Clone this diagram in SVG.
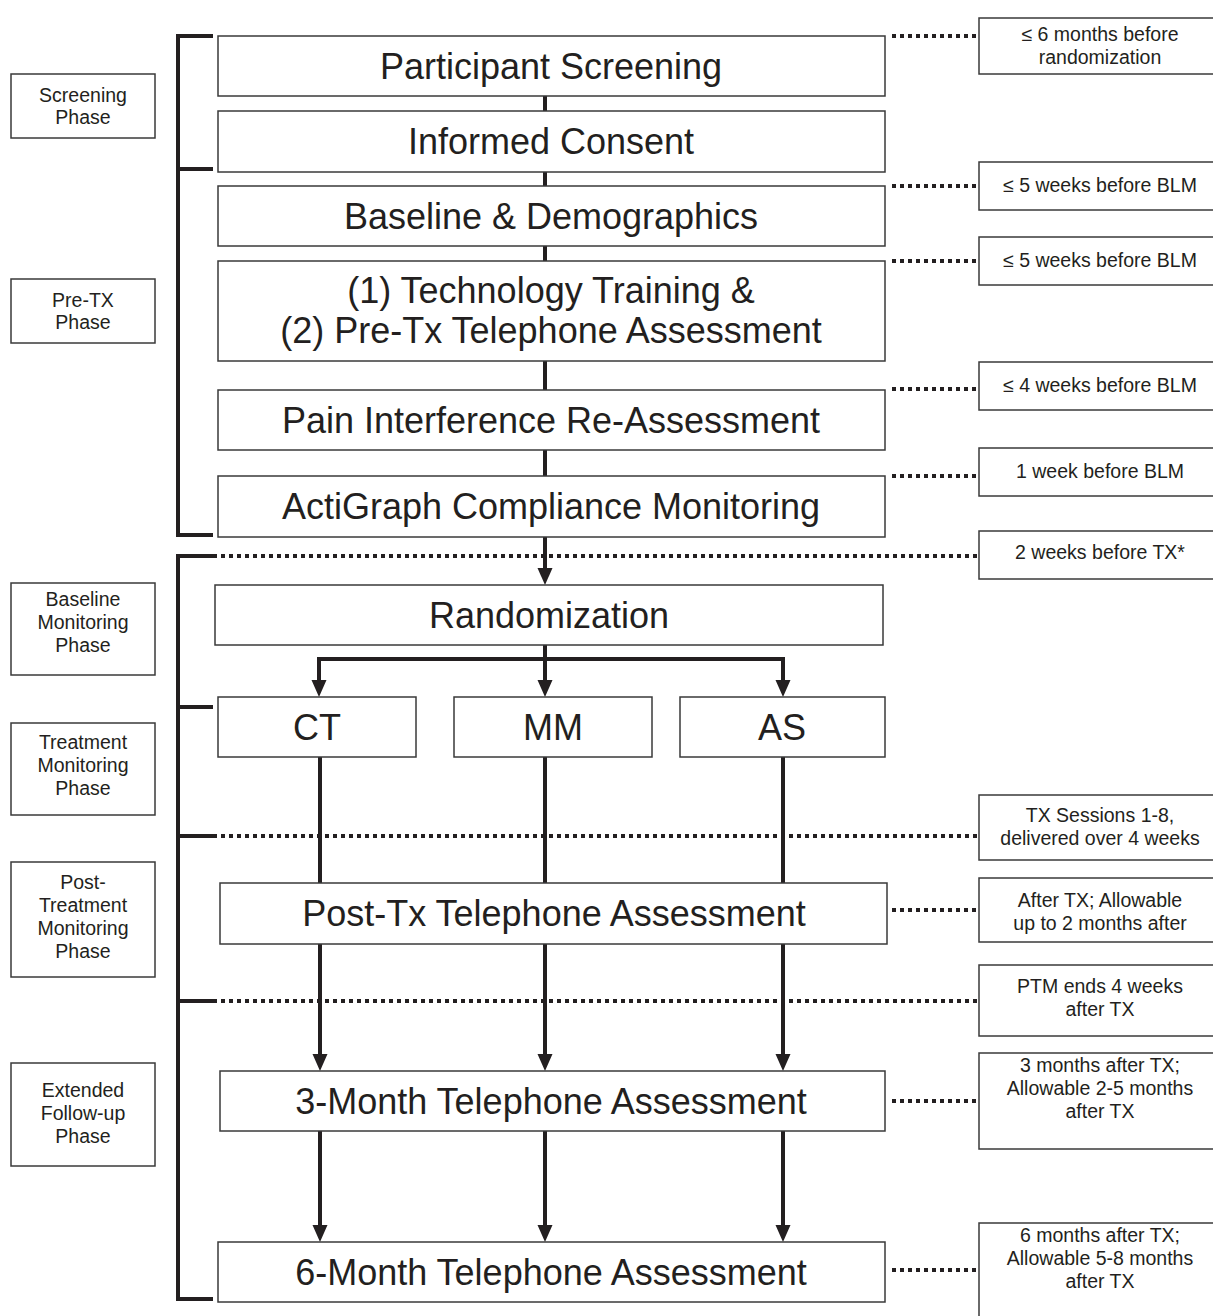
<svg xmlns="http://www.w3.org/2000/svg" width="1213" height="1316" viewBox="0 0 1213 1316">
<defs>
<style>
.box{fill:#fff;stroke:#3a3a3a;stroke-width:1.5}
.main{font-family:"Liberation Sans",Arial,sans-serif;font-size:36px;fill:#231f20;text-anchor:middle}
.small{font-family:"Liberation Sans",Arial,sans-serif;font-size:19.5px;fill:#231f20;text-anchor:middle}
.solid{stroke:#231f20;stroke-width:4;fill:none}
.dot{stroke:#231f20;stroke-width:4;stroke-dasharray:4 4;fill:none}
.head{fill:#231f20}
</style>
</defs>
<rect width="1213" height="1316" fill="#fff"/>

<g id="connectors">
<path class="solid" d="M213,36 H178 V169 H213"/>
<path class="solid" d="M178,169 V535 H213"/>
<path class="solid" d="M213,556 H178 V1299 H213"/>
<path class="solid" d="M178,707 H213"/>
<path class="solid" d="M178,836 H213"/>
<path class="solid" d="M178,1001 H213"/>
<path class="dot" d="M213,556 H978"/>
<path class="dot" d="M213,836 H978"/>
<path class="dot" d="M213,1001 H978"/>
<path class="dot" d="M892,36 H978"/>
<path class="dot" d="M892,186 H978"/>
<path class="dot" d="M892,261 H978"/>
<path class="dot" d="M892,389 H978"/>
<path class="dot" d="M892,476 H978"/>
<path class="dot" d="M892,910 H978"/>
<path class="dot" d="M892,1101 H978"/>
<path class="dot" d="M892,1270 H978"/>
<path class="solid" d="M545,96 V111 M545,172 V186 M545,246 V261 M545,361 V390 M545,450 V476"/>
<path class="solid" d="M545,537 V570"/>
<path class="head" d="M537.5,568 L552.5,568 L545,585 Z"/>
<path class="solid" d="M545,645 V680 M319,680 V659 H783 V680"/>
<path class="head" d="M311.5,680 L326.5,680 L319,697 Z M537.5,680 L552.5,680 L545,697 Z M775.5,680 L790.5,680 L783,697 Z"/>
<path class="solid" d="M320,757 V1055 M545,757 V1055 M783,757 V1055"/>
<path class="head" d="M312.5,1054 L327.5,1054 L320,1071 Z M537.5,1054 L552.5,1054 L545,1071 Z M775.5,1054 L790.5,1054 L783,1071 Z"/>
<path class="solid" d="M320,1131 V1226 M545,1131 V1226 M783,1131 V1226"/>
<path class="head" d="M312.5,1225 L327.5,1225 L320,1242 Z M537.5,1225 L552.5,1225 L545,1242 Z M775.5,1225 L790.5,1225 L783,1242 Z"/>
</g>

<g id="screening"><rect class="box" x="218" y="36" width="667" height="60"/><text class="main" x="551" y="79">Participant Screening</text></g>
<g id="consent"><rect class="box" x="218" y="111" width="667" height="61"/><text class="main" x="551" y="154">Informed Consent</text></g>
<g id="baseline"><rect class="box" x="218" y="186" width="667" height="60"/><text class="main" x="551" y="229">Baseline &amp; Demographics</text></g>
<g id="training"><rect class="box" x="218" y="261" width="667" height="100"/><text class="main" x="551" y="303">(1) Technology Training &amp;</text><text class="main" x="551" y="343">(2) Pre-Tx Telephone Assessment</text></g>
<g id="pain"><rect class="box" x="218" y="390" width="667" height="60"/><text class="main" x="551" y="433">Pain Interference Re-Assessment</text></g>
<g id="actigraph"><rect class="box" x="218" y="476" width="667" height="61"/><text class="main" x="551" y="519">ActiGraph Compliance Monitoring</text></g>
<g id="randomization"><rect class="box" x="215" y="585" width="668" height="60"/><text class="main" x="549" y="628">Randomization</text></g>
<g id="ct"><rect class="box" x="218" y="697" width="198" height="60"/><text class="main" x="317" y="740">CT</text></g>
<g id="mm"><rect class="box" x="454" y="697" width="198" height="60"/><text class="main" x="553" y="740">MM</text></g>
<g id="as"><rect class="box" x="680" y="697" width="205" height="60"/><text class="main" x="782" y="740">AS</text></g>
<g id="posttx"><rect class="box" x="220" y="883" width="667" height="61"/><text class="main" x="554" y="926">Post-Tx Telephone Assessment</text></g>
<g id="month3"><rect class="box" x="220" y="1071" width="665" height="60"/><text class="main" x="551" y="1114">3-Month Telephone Assessment</text></g>
<g id="month6"><rect class="box" x="218" y="1242" width="667" height="60"/><text class="main" x="551" y="1285">6-Month Telephone Assessment</text></g>

<g id="phase-screening"><rect class="box" x="11" y="74" width="144" height="64"/><text class="small" x="83" y="102">Screening</text><text class="small" x="83" y="124">Phase</text></g>
<g id="phase-pretx"><rect class="box" x="11" y="279" width="144" height="64"/><text class="small" x="83" y="307">Pre-TX</text><text class="small" x="83" y="329">Phase</text></g>
<g id="phase-baseline"><rect class="box" x="11" y="583" width="144" height="92"/><text class="small" x="83" y="606">Baseline</text><text class="small" x="83" y="629">Monitoring</text><text class="small" x="83" y="652">Phase</text></g>
<g id="phase-treatment"><rect class="box" x="11" y="723" width="144" height="92"/><text class="small" x="83" y="749">Treatment</text><text class="small" x="83" y="772">Monitoring</text><text class="small" x="83" y="795">Phase</text></g>
<g id="phase-post"><rect class="box" x="11" y="862" width="144" height="115"/><text class="small" x="83" y="889">Post-</text><text class="small" x="83" y="912">Treatment</text><text class="small" x="83" y="935">Monitoring</text><text class="small" x="83" y="958">Phase</text></g>
<g id="phase-extended"><rect class="box" x="11" y="1063" width="144" height="103"/><text class="small" x="83" y="1097">Extended</text><text class="small" x="83" y="1120">Follow-up</text><text class="small" x="83" y="1143">Phase</text></g>

<g id="t1"><rect class="box" x="979" y="18" width="245" height="56"/><text class="small" x="1100" y="41">≤ 6 months before</text><text class="small" x="1100" y="64">randomization</text></g>
<g id="t2"><rect class="box" x="979" y="162" width="245" height="48"/><text class="small" x="1100" y="192">≤ 5 weeks before BLM</text></g>
<g id="t3"><rect class="box" x="979" y="237" width="245" height="48"/><text class="small" x="1100" y="267">≤ 5 weeks before BLM</text></g>
<g id="t4"><rect class="box" x="979" y="362" width="245" height="48"/><text class="small" x="1100" y="392">≤ 4 weeks before BLM</text></g>
<g id="t5"><rect class="box" x="979" y="448" width="245" height="48"/><text class="small" x="1100" y="478">1 week before BLM</text></g>
<g id="t6"><rect class="box" x="979" y="531" width="245" height="48"/><text class="small" x="1100" y="559">2 weeks before TX*</text></g>
<g id="t7"><rect class="box" x="979" y="795" width="245" height="65"/><text class="small" x="1100" y="822">TX Sessions 1-8,</text><text class="small" x="1100" y="845">delivered over 4 weeks</text></g>
<g id="t8"><rect class="box" x="979" y="878" width="245" height="64"/><text class="small" x="1100" y="907">After TX; Allowable</text><text class="small" x="1100" y="930">up to 2 months after</text></g>
<g id="t9"><rect class="box" x="979" y="965" width="245" height="71"/><text class="small" x="1100" y="993">PTM ends 4 weeks</text><text class="small" x="1100" y="1016">after TX</text></g>
<g id="t10"><rect class="box" x="979" y="1053" width="245" height="96"/><text class="small" x="1100" y="1072">3 months after TX;</text><text class="small" x="1100" y="1095">Allowable 2-5 months</text><text class="small" x="1100" y="1118">after TX</text></g>
<g id="t11"><rect class="box" x="979" y="1223" width="245" height="100"/><text class="small" x="1100" y="1242">6 months after TX;</text><text class="small" x="1100" y="1265">Allowable 5-8 months</text><text class="small" x="1100" y="1288">after TX</text></g>
</svg>
